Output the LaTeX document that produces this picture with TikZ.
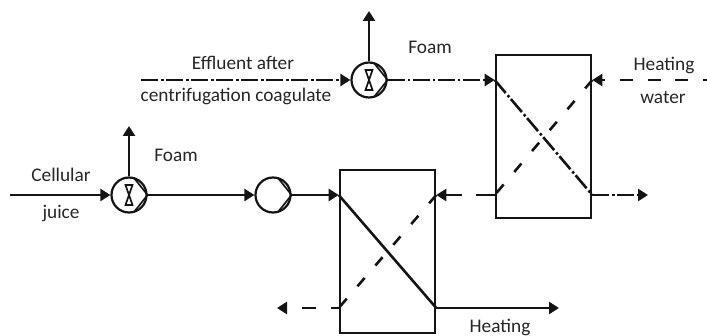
\documentclass[tikz,border=0pt]{standalone}
\usepackage{fontspec}
\setmainfont{Carlito}
\usetikzlibrary{arrows.meta,calc}
\tikzset{
  every picture/.style={x=1pt,y=-1pt},
  line/.style={line width=2.6pt,draw=black!92},
  flow/.style={line,-{Triangle[length=10pt,width=12pt]}},
  dd/.style={dash pattern=on 17pt off 3pt on 2.5pt off 2.5pt},
  diag/.style={dash pattern=on 11pt off 16.4pt},
  hx/.style={draw=black!92,line width=2.6pt,minimum width=95pt,minimum height=163pt,inner sep=0pt},
  pumpc/.style={circle,draw=black!92,line width=2.2pt,minimum size=35pt,inner sep=0pt},
  lbl/.style={font=\fontsize{19.3}{19.3}\selectfont,text=black!85,inner sep=0pt}
}
\newcommand{\pumpmark}[1]{%
  \draw[line,line width=1.7pt] ($(#1.center)+(5,-17)$) -- (#1.east) -- ($(#1.center)+(5,17)$);
}
\newcommand{\bowmark}[1]{%
  \draw[line,line width=1.7pt] ($(#1.center)+(-3.5,-10)$) -- ($(#1.center)+(3.5,-10)$) -- ($(#1.center)+(-3.5,10)$) -- ($(#1.center)+(3.5,10)$) -- cycle;
}
\begin{document}
\begin{tikzpicture}
\useasboundingbox (0,0) rectangle (707,336);
% equipment
\node[hx] (H2) at (543.5,136.5) {};
\node[hx] (H1) at (387.5,251.5) {};
\node[pumpc] (P1) at (369,80) {};
\node[pumpc] (P2) at (129,195) {};
\node[pumpc] (P3) at (273,195) {};
\pumpmark{P1}\bowmark{P1}
\pumpmark{P2}\bowmark{P2}
\pumpmark{P3}
% ports
\coordinate (H2tl) at (H2.west |- 0,80);
\coordinate (H2tr) at (H2.east |- 0,80);
\coordinate (H2bl) at (H2.west |- 0,195);
\coordinate (H2br) at (H2.east |- 0,195);
\coordinate (H1tl) at (H1.west |- 0,195);
\coordinate (H1tr) at (H1.east |- 0,195);
\coordinate (H1bl) at (H1.west |- 0,308);
\coordinate (H1br) at (H1.east |- 0,308);
\coordinate (effin) at (141,80);
\coordinate (juicein) at (10,195);
\coordinate (foamA) at (369,11);
\coordinate (foamB) at (129,126);
\coordinate (hwin) at (707,80);
\coordinate (outA) at (648,195);
\coordinate (outB) at (559,308);
\coordinate (outC) at (277,308);
% effluent stream
\draw[flow,dd] (effin) -- (P1.west);
\draw[flow,dd] (P1.east) -- (H2tl);
\draw[line,dd] (H2tl) -- (H2br);
\draw[flow,dd] (H2br) -- (outA);
\draw[flow] (P1.north) -- (foamA);
% heating water
\draw[flow,dash pattern=on 4pt off 15pt on 13pt off 14pt on 13pt off 15pt on 13pt off 15pt on 20pt off 0pt] (hwin) -- (H2tr);
\draw[line,diag] (H2tr) -- (H2bl);
\draw[flow,dash pattern=on 19pt off 14pt] (H2bl) -- (H1tr);
\draw[line,diag] (H1tr) -- (H1bl);
\draw[flow,dash pattern=on 8pt off 15pt on 14pt off 30pt] (H1bl) -- (outC);
% juice stream
\draw[flow] (juicein) -- (P2.west);
\draw[flow] (P2.east) -- (P3.west);
\draw[flow] (P3.east) -- (H1tl);
\draw[line] (H1tl) -- (H1br);
\draw[flow] (H1br) -- (outB);
\draw[flow] (P2.north) -- (foamB);
% labels
\node[lbl] (t1) at (243,63) {Effluent after};
\node[lbl] (t2) at (236,96) {centrifugation coagulate};
\node[lbl] (t3) at (430,47) {Foam};
\node[lbl] (t4) at (664,65) {Heating};
\node[lbl] (t5) at (663,97) {water};
\node[lbl] (t6) at (61,175) {Cellular};
\node[lbl] (t7) at (61,214) {juice};
\node[lbl] (t8) at (176,155) {Foam};
\node[lbl] (t9) at (500,327) {Heating};
\end{tikzpicture}
\end{document}
